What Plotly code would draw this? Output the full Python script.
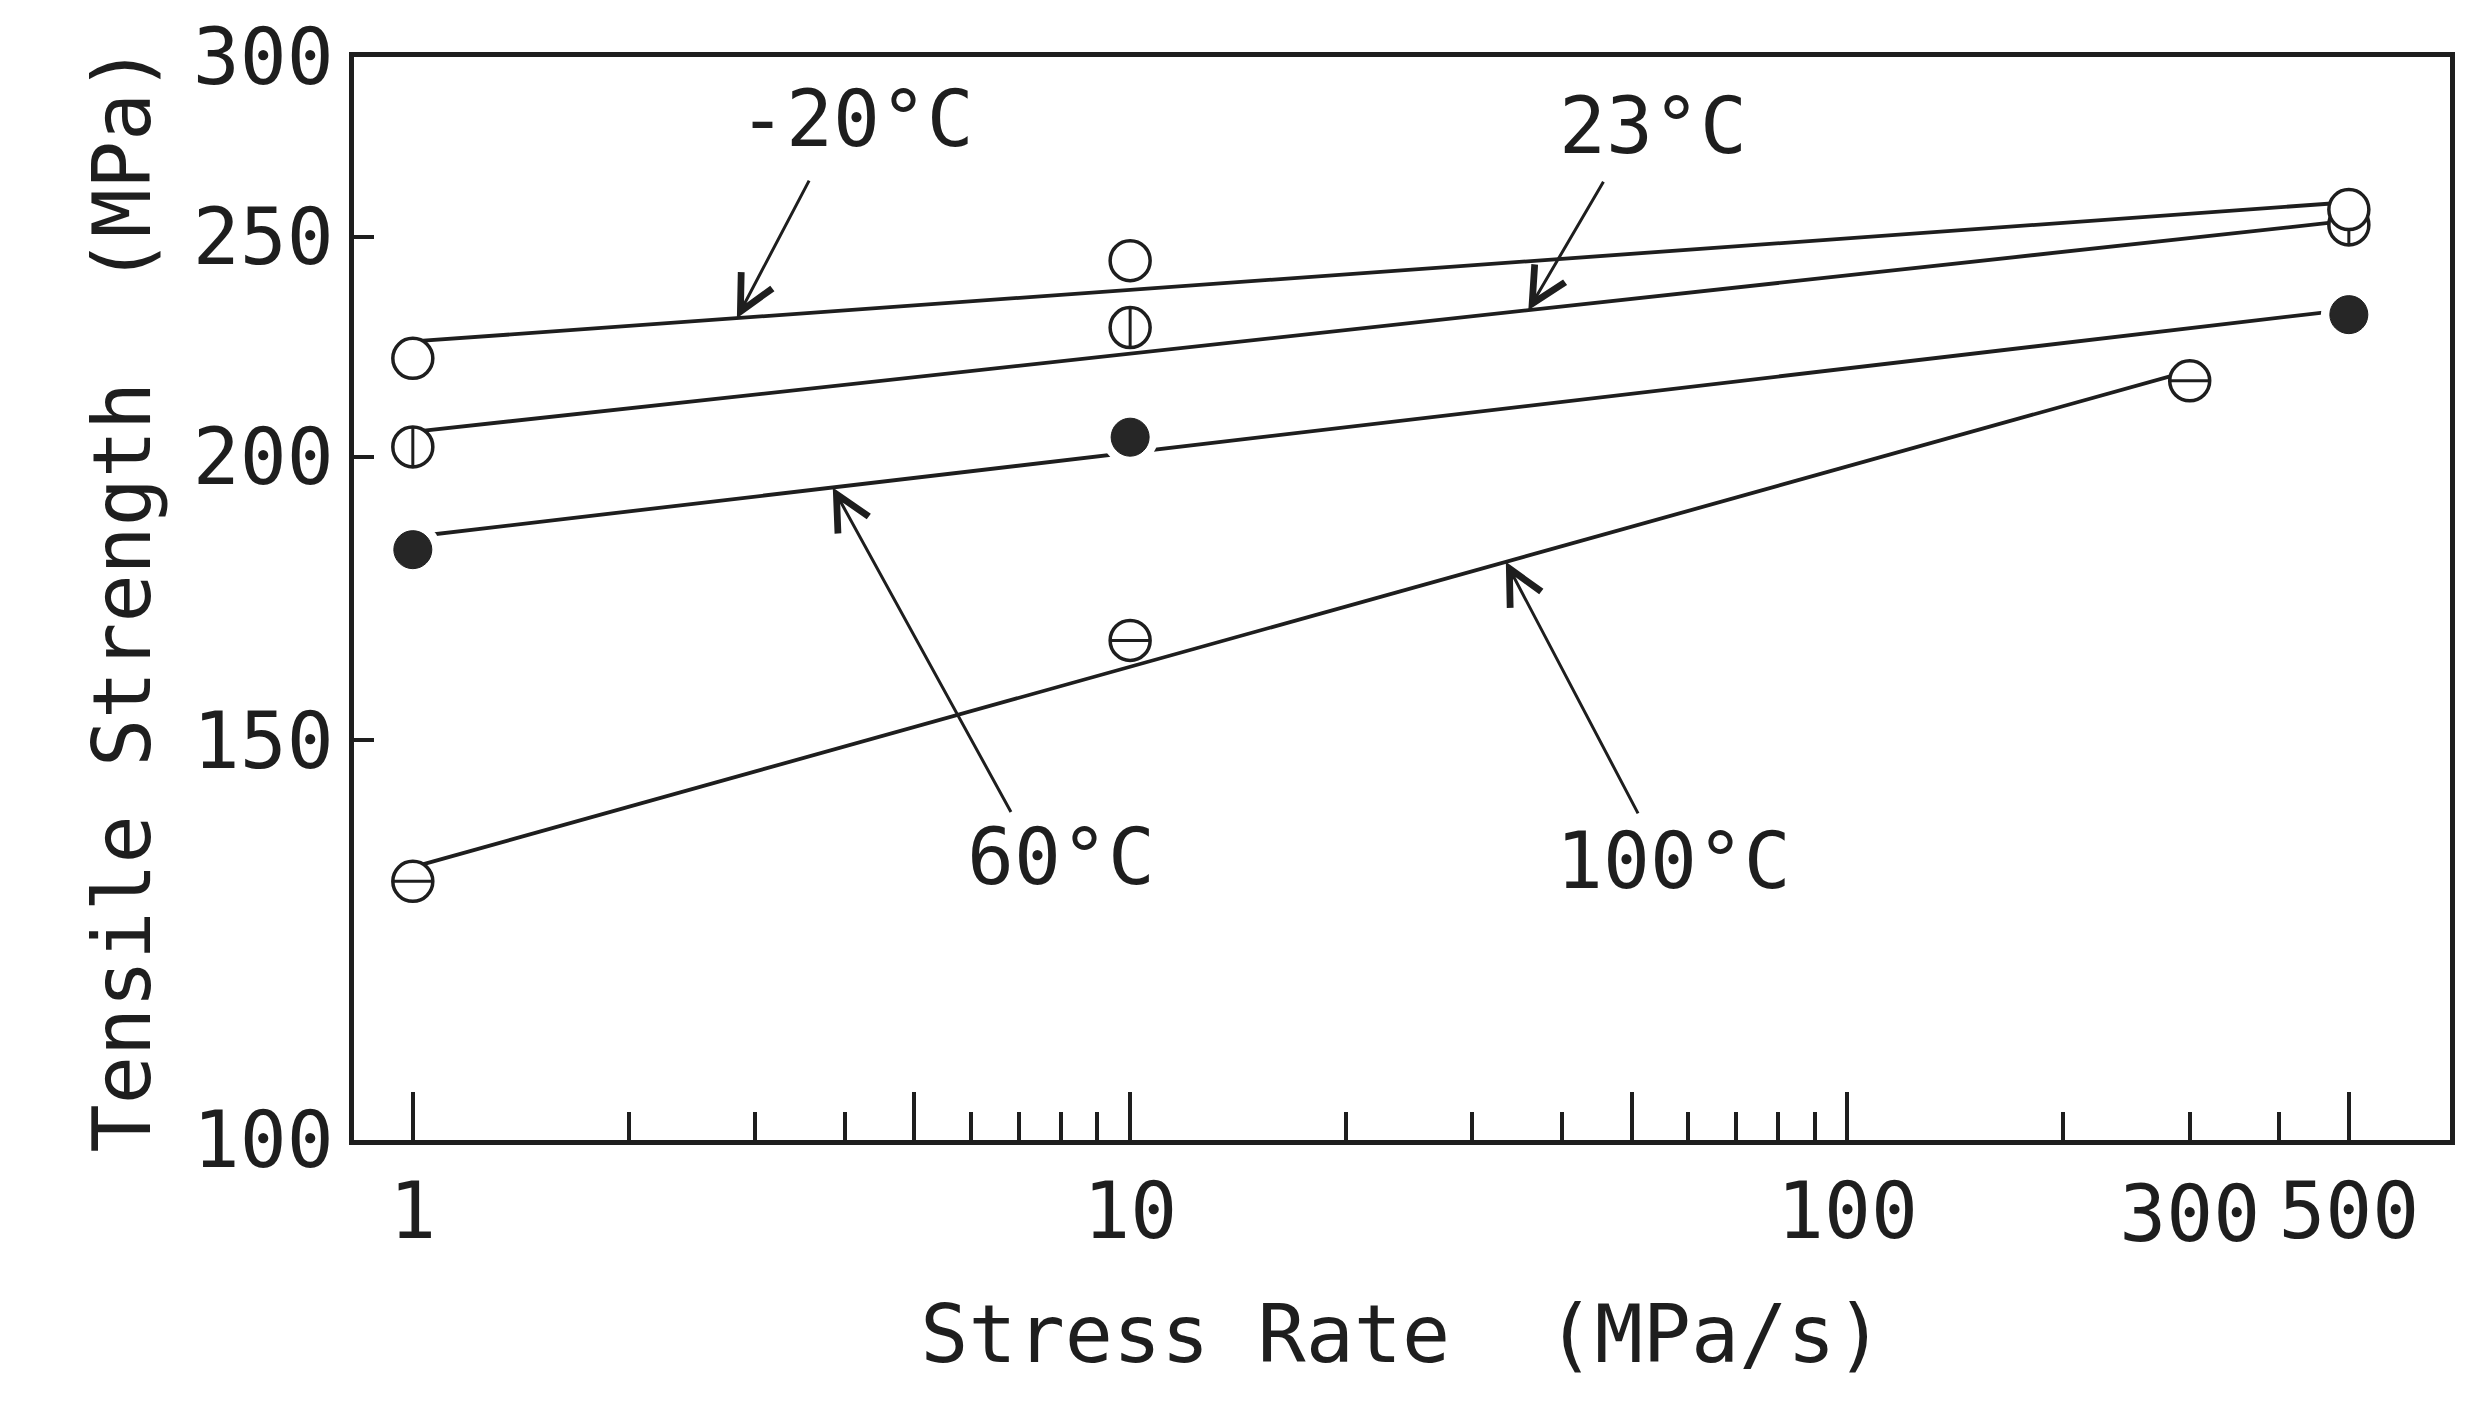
import numpy as np
import plotly.graph_objects as go

# ---------------- data ----------------
# Stress rate (MPa/s) and tensile strength (MPa) for each temperature
x_m20 = [1, 10, 500]
y_m20 = [221, 244, 257]
x_23 = [1, 10, 500]
y_23 = [202, 228, 253]
x_60 = [1, 10, 500]
y_60 = [182, 204, 231]
x_100 = [1, 10, 300]
y_100 = [130, 166, 216]

# fitted (log-log) straight lines: value at first and last stress rate
fit_m20 = [224.8, 258.9]
fit_23 = [205.1, 254.1]
fit_60 = [184.4, 232.2]
fit_100 = [131.9, 218.2]

labels = ["-20°C", "23°C", "60°C", "100°C"]

x_major_ticks = [1, 5, 10, 50, 100, 500]
x_major_labels = ["1", "", "10", "", "100", "500"]
x_minor_ticks = [2, 3, 4, 6, 7, 8, 9, 20, 30, 40, 60, 70, 80, 90, 200, 300, 400]
x_extra_ticks = [300]
x_extra_labels = ["300"]
y_ticks = [100, 150, 200, 250, 300]
y_labels = ["100", "150", "200", "250", "300"]

# ---------------- styling ----------------
FONT = "DejaVu Sans Mono"
INK = "#1e1e1e"
FS = 78
W, H = 2467, 1404
L, R, T, B = 354, 15, 48, 264
XR = [-0.082, 2.840]
YR = [2.0, np.log10(300)]

fig = go.Figure()


def add_line(xs, fit):
    fig.add_trace(go.Scatter(x=[xs[0], xs[-1]], y=fit, mode="lines",
                             line=dict(color=INK, width=3.8),
                             hoverinfo="skip", showlegend=False))


for xs, fit in [(x_m20, fit_m20), (x_23, fit_23), (x_60, fit_60), (x_100, fit_100)]:
    add_line(xs, fit)

# white halo behind the filled markers (gap in the line)
fig.add_trace(go.Scatter(x=x_60, y=y_60, mode="markers",
                         marker=dict(symbol="circle", size=56, color="white",
                                     line=dict(width=0)),
                         hoverinfo="skip", showlegend=False))


def open_marker(xs, ys, bar=None):
    fig.add_trace(go.Scatter(x=xs, y=ys, mode="markers",
                             marker=dict(symbol="circle", size=40, color="white",
                                         line=dict(color=INK, width=3.5)),
                             showlegend=False))
    if bar:
        fig.add_trace(go.Scatter(x=xs, y=ys, mode="markers",
                                 marker=dict(symbol=bar, size=28,
                                             line=dict(color=INK, width=3)),
                                 showlegend=False))


open_marker(x_100, y_100, "line-ew")
fig.add_trace(go.Scatter(x=x_60, y=y_60, mode="markers",
                         marker=dict(symbol="circle", size=38, color="#262626",
                                     line=dict(color=INK, width=1)),
                         showlegend=False))
open_marker(x_23, y_23, "line-ns")
open_marker(x_m20, y_m20)

# invisible trace to carry the extra "300" tick label axis
fig.add_trace(go.Scatter(x=x_extra_ticks, y=[y_100[-1]], xaxis="x2", mode="markers",
                         marker=dict(opacity=0), hoverinfo="skip", showlegend=False))


def fit_at(xq, xs, fit):
    t = (np.log10(xq) - np.log10(xs[0])) / (np.log10(xs[-1]) - np.log10(xs[0]))
    return 10 ** (np.log10(fit[0]) + t * (np.log10(fit[1]) - np.log10(fit[0])))


# arrows: (tip stress rate on the fitted line, tail offset in px)
arrows = [
    (x_m20, fit_m20, 2.83, 73, -139),
    (x_23, fit_23, 35.9, 76, -130),
    (x_60, fit_60, 3.85, 179, 326),
    (x_100, fit_100, 33.4, 133, 253),
]
annotations = []
for xs, fit, xq, ax, ay in arrows:
    annotations.append(dict(
        x=np.log10(xq), y=np.log10(fit_at(xq, xs, fit)), xref="x", yref="y",
        text="", showarrow=True, arrowhead=5, arrowsize=2.3, arrowwidth=3,
        arrowcolor=INK, ax=ax, ay=ay, standoff=0))

# temperature labels (paper coords)
label_pos = [(0.2398, 0.9432), (0.6196, 0.9359), (0.3375, 0.2610), (0.6297, 0.2573)]
for txt, (px, py) in zip(labels, label_pos):
    annotations.append(dict(x=px, y=py, xref="paper", yref="paper", text=txt,
                            showarrow=False, xanchor="center", yanchor="middle",
                            font=dict(family=FONT, size=FS, color=INK)))

axis_common = dict(showline=True, linecolor=INK, linewidth=4.5, mirror=True,
                   showgrid=False, zeroline=False, ticks="inside",
                   tickcolor=INK, tickwidth=4,
                   tickfont=dict(family=FONT, size=FS, color=INK))

fig.update_layout(
    width=W, height=H,
    margin=dict(l=L, r=R, t=T, b=B),
    paper_bgcolor="white", plot_bgcolor="white",
    showlegend=False,
    xaxis=dict(type="log", range=XR, tickmode="array",
               tickvals=x_major_ticks, ticktext=x_major_labels, ticklen=48,
               minor=dict(tickvals=x_minor_ticks, ticks="inside", ticklen=28,
                          tickwidth=4, tickcolor=INK, showgrid=False),
               ticklabelstandoff=0,
               title=dict(text="Stress Rate\u00a0 (MPa/s)", standoff=52,
                          font=dict(family=FONT, size=80, color=INK)),
               **axis_common),
    xaxis2=dict(type="log", range=XR, overlaying="x", anchor="y", side="bottom",
                tickmode="array", tickvals=x_extra_ticks, ticktext=x_extra_labels,
                ticks="", showline=False, showgrid=False, zeroline=False,
                ticklabelstandoff=22,
                tickfont=dict(family=FONT, size=FS, color=INK)),
    yaxis=dict(type="log", range=YR, tickmode="array",
               tickvals=y_ticks, ticktext=y_labels, ticklen=20,
               ticklabelstandoff=0,
               title=dict(text="Tensile Strength\u00a0 (MPa)", standoff=17,
                          font=dict(family=FONT, size=80, color=INK)),
               **axis_common),
    annotations=annotations,
)

fig.write_html("out.html")
